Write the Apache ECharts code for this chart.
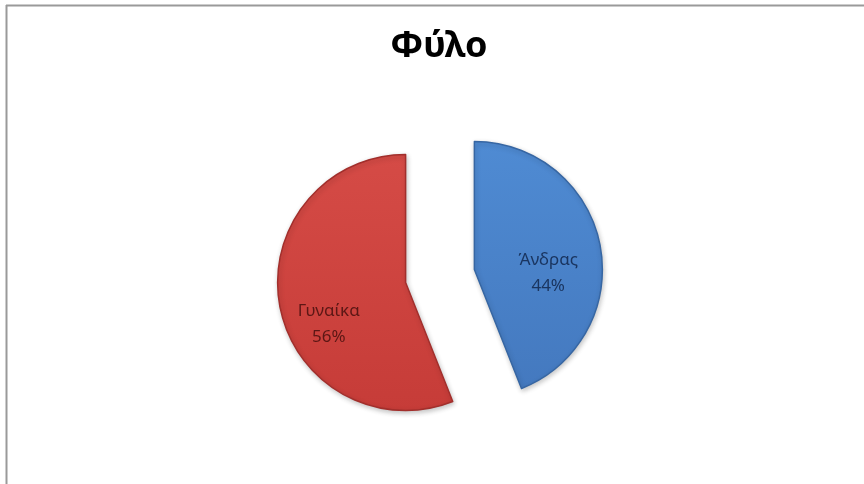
<!DOCTYPE html>
<html>
<head>
<meta charset="utf-8">
<script src="https://cdn.jsdelivr.net/npm/echarts@6/dist/echarts.min.js"></script>
<style>
html,body{margin:0;padding:0;background:#fff;}
#chart{position:absolute;left:0;top:0;width:864px;height:484px;}
</style>
</head>
<body>
<div id="chart"></div>
<script>
const titleText = 'Φύλο';
const categories = ['Άνδρας', 'Γυναίκα'];
const values = [44, 56];
const percentLabels = ['44%', '56%'];

const colorsTop = ['#4f8bd3', '#d54b46'];
const colorsBottom = ['#4479bf', '#c63c38'];
const colorsBorder = ['#3666a3', '#a22f2c'];
const labelColors = ['#1a3560', '#5c1715'];
const labelShift = [[8, 16], [-11, 29]];

const chart = echarts.init(document.getElementById('chart'), null, {renderer: 'canvas'});

const data = categories.map((c, i) => ({
  name: c,
  value: values[i],
  selected: true,
  itemStyle: {
    color: {
      type: 'linear', x: 0, y: 0, x2: 0, y2: 1,
      colorStops: [
        {offset: 0, color: colorsTop[i]},
        {offset: 1, color: colorsBottom[i]}
      ]
    },
    borderColor: colorsBorder[i]
  },
  label: {
    color: labelColors[i],
    formatter: () => c + '\n' + percentLabels[i]
  }
}));

chart.setOption({
  animation: false,
  backgroundColor: '#ffffff',
  title: {
    text: titleText,
    left: 434,
    top: 24,
    textAlign: 'center',
    textStyle: {
      fontFamily: 'Noto Sans',
      fontWeight: 'bold',
      fontSize: 36,
      color: '#000000'
    }
  },
  graphic: [
    {type: 'line', shape: {x1: 6, y1: 5.5, x2: 864, y2: 5.5}, style: {stroke: '#9a9a9a', lineWidth: 2}},
    {type: 'line', shape: {x1: 6.5, y1: 5, x2: 6.5, y2: 484}, style: {stroke: '#9a9a9a', lineWidth: 2}}
  ],
  series: [{
    type: 'pie',
    center: [440, 276],
    radius: [0, 128],
    startAngle: 90,
    clockwise: true,
    selectedMode: 'multiple',
    selectedOffset: 35,
    emphasis: {disabled: true},
    itemStyle: {
      borderWidth: 1.5,
      shadowBlur: 5,
      shadowColor: 'rgba(0,0,0,0.22)',
      shadowOffsetX: 1,
      shadowOffsetY: 2
    },
    label: {
      show: true,
      position: 'inside',
      fontFamily: 'Noto Sans',
      fontSize: 17,
      lineHeight: 26,
      align: 'center'
    },
    labelLayout: function (params) {
      const s = labelShift[params.dataIndex];
      return {dx: s[0], dy: s[1]};
    },
    labelLine: {show: false},
    data: data
  }]
});
</script>
</body>
</html>
